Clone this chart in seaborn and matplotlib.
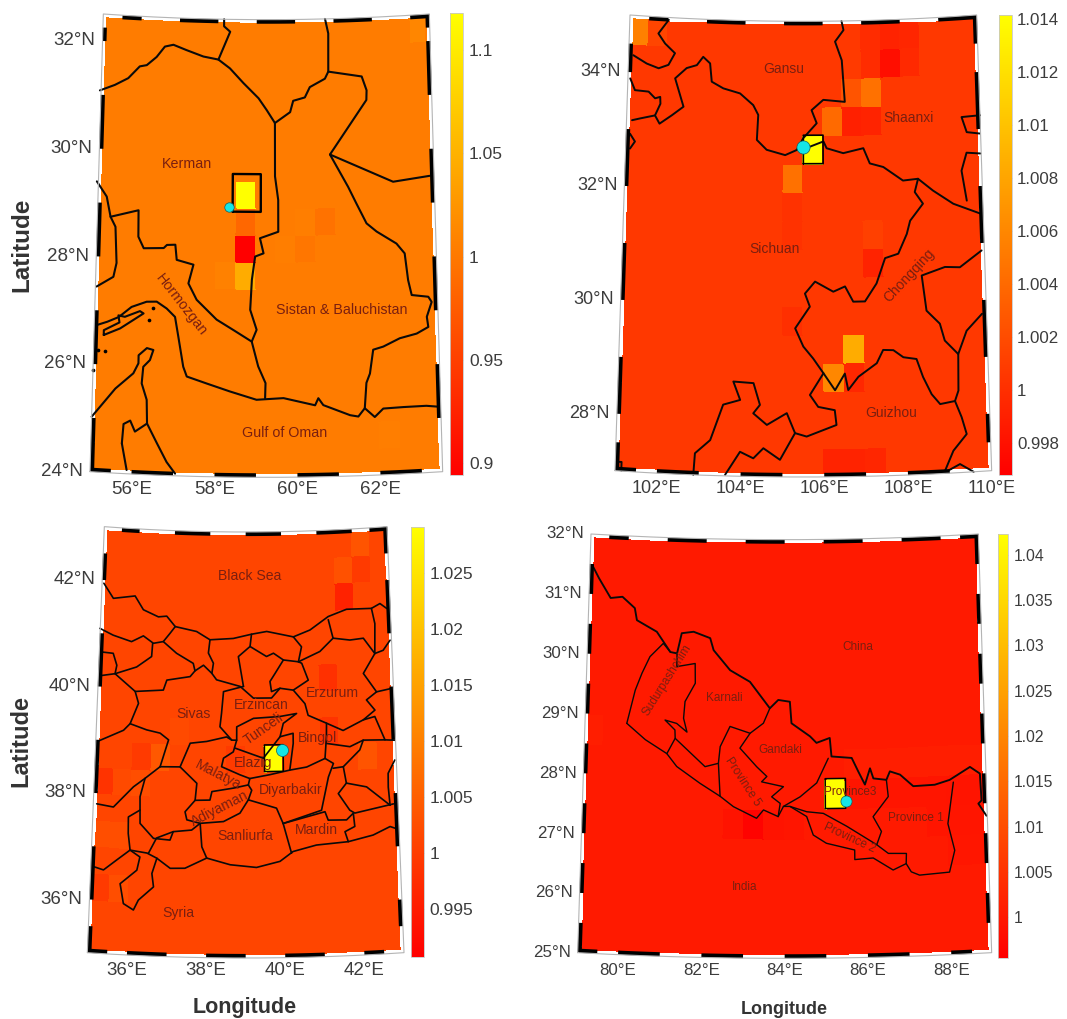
import numpy as np
import matplotlib
matplotlib.use("Agg")
import matplotlib.pyplot as plt
import seaborn as sns

sns.set_theme(style="white")
plt.rcParams["font.family"] = ["Liberation Sans", "DejaVu Sans"]

# ---------- data: cell values (lon, lat of the cell's SW corner, value) ----------
KERMAN_BASE = 1.003
KERMAN_CELLS = [(58.5,29,1.1177),(58.5,28.5,0.985),(58.5,28,0.8944),(58.5,27.5,1.045),(58,27.5,1.007),
                (60.5,28.5,0.994),(60,28.5,1.005),(60,28,0.998),(59.5,28,1.005),(63,32,1.012),(62,24.5,1.005)]
SICHUAN_BASE = 1.0006
SICHUAN_CELLS = [(101,34.5,1.0055),(101.5,34.5,1.0015),(107.5,34,0.9978),(107.5,34.5,0.9992),(108,34.5,0.9994),
                 (107,34.5,0.9998),(108,34,0.9996),(107,34,0.9998),(106.5,34,1.0008),(107,33.5,1.0045),(106.5,33.5,1.0025),
                 (106,33,1.004),(106.5,33,0.999),(107,33,0.9992),(105.5,32.5,1.01416),(105,32,1.0045),
                 (105,31.5,1.0002),(105,31,1.0002),(107,31,1.0012),(107,30.5,0.9992),(105,29.5,1.0),
                 (106.5,29,1.0085),(106,28.5,1.006),(106.5,28.5,0.9995),(106,27,0.9992),(106.5,27,0.9992),(107,27,0.9994)]
ELAZIG_BASE = 1.0012
ELAZIG_CELLS = [(41.5,41.5,0.996),(42,42,0.9995),(42,42.5,1.0035),(41.5,42,1.003),(41,40,0.998),(41,39,0.9985),
                (39.5,38.5,1.0291),(36.5,38.5,1.004),(36,38.5,0.9995),(35,38,0.9985),(36,38,1.0025),(35.5,38,1.002),
                (35,36,0.9995),(35.5,36,1.0025),(42,38.5,1.0035),(35,37,1.0025),(35.5,37,1.0025),(37,39,1.002),(38.5,38.5,0.9995)]
NEPAL_BASE = 1.0003
NEPAL_CELLS = [(85,27.5,1.0423),(83,27,0.9962),(82.5,27,0.9992),(83.5,27,0.9992),(84,27,0.9994),(79,28.5,1.0012),
               (85.5,28,1.0012),(86,28,1.0012),(86.5,28,1.0012),(87,28,1.0012),(87.5,28,1.0012),(88,28,1.0012),(88.5,28,1.0012),
               (85.5,27.5,0.9995),(86,27.5,0.9995),(86.5,27.5,0.9995),(87,27.5,0.9995),(87.5,27.5,0.9995),(88,27.5,0.9993),(88.5,27.5,0.9993),
               (87.5,27,0.9995),(88,27,0.9995),(88.5,27,0.9995),(88,26.5,0.9997),(88.5,26.5,0.9997)]

# ---------- data: boundary lines as (lon, lat) ----------
KERMAN_LINES = [
 [(54.97,31.08),(55.35,31.2),(55.69,31.34),(55.98,31.57),(56.16,31.6),(56.41,31.76),(56.62,31.96),(56.84,32.0),(57.18,31.91),(57.62,31.8),(58.01,31.75),(58.31,31.59),(58.66,31.32),(59.05,31.04),(59.26,30.82),(59.47,30.58)],
 [(58.01,31.75),(58.31,32.27),(58.15,32.37),(58.15,32.5)],
 [(60.78,32.5),(60.86,32.23),(60.85,31.52),(60.76,31.39),(60.37,31.24),(60.24,31.05),(59.94,30.99),(59.86,30.78),(59.47,30.58)],
 [(60.85,31.52),(61.71,31.41),(61.83,31.15),(61.82,30.97),(60.87,29.98),(62.46,29.43),(63.39,29.5)],
 [(60.87,29.98),(61.32,29.37),(61.52,29.06),(61.77,28.68),(62.02,28.52),(62.51,28.28),(62.71,28.09),(62.78,27.59),(62.86,27.31),(63.27,27.26),(63.35,27.16),(63.22,26.89),(63.25,26.7),(62.96,26.59),(62.54,26.52),(62.13,26.38),(61.88,26.33),(61.79,25.89),(61.7,25.72),(61.65,25.25)],
 [(55.04,26.72),(55.32,26.8),(55.6,26.9),(55.91,27.1),(56.28,27.21),(56.53,27.22),(56.78,27.1),(56.99,26.95),(57.08,26.58),(57.21,26.03),(57.3,25.85),(57.79,25.73),(58.36,25.59),(59.01,25.44),(59.67,25.47),(60.44,25.33),(60.52,25.46),(60.64,25.33),(61.29,25.13),(61.49,25.1),(61.65,25.25),(61.89,25.08),(62.1,25.23),(62.59,25.24),(63.15,25.24),(63.44,25.21)],
 [(54.96,29.39),(55.22,29.12),(55.33,28.75),(55.46,28.57),(55.51,27.9),(55.44,27.64),(55.03,27.44)],
 [(55.33,28.75),(56.03,28.9),(56.04,28.41),(56.18,28.2),(56.68,28.22),(56.76,28.28),(56.97,28.29),(57.01,28.01),(57.43,27.93),(57.31,27.58),(57.52,27.28),(58.02,26.92),(58.44,26.73),(58.89,26.52),(59.05,26.06),(59.23,25.75),(59.22,25.47)],
 [(58.89,26.52),(59.01,26.74),(58.85,27.11),(58.89,27.67),(58.97,28.1),(59.18,28.16),(59.09,28.44),(59.55,28.56),(59.55,29.15),(59.47,29.59),(59.47,30.58)],
 [(55.0,25.02),(55.56,25.57),(55.99,25.87),(56.11,26.06),(56.11,26.21),(56.31,26.35),(56.47,26.32),(56.39,26.13),(56.23,26.0),(56.2,25.69),(56.33,25.39),(56.35,24.95),(56.6,24.59),(56.84,24.25),(57.05,24.04)],
 [(55.75,24.56),(55.78,24.92),(55.94,24.99),(56.06,24.79),(56.35,24.95)],
 [(55.75,24.56),(55.88,24.07)],
 [(55.24,26.55),(55.64,26.69),(56.21,26.99),(56.12,27.03),(55.75,26.91),(55.59,26.93),(55.62,26.8),(55.24,26.64),(55.24,26.55)],
]
KERMAN_ISLANDS_LON = [56.45,56.34,55.12,55.29,55.01]
KERMAN_ISLANDS_LAT = [27.09,26.88,26.26,26.26,25.89]

SICHUAN_LINES = [
 [(102.01,34.96),(101.75,34.71),(101.93,34.54),(102.19,34.38),(102.03,34.17),(101.78,34.1),(101.47,34.17),(101.12,34.3)],
 [(101.06,33.89),(101.19,33.69),(101.54,33.68),(101.71,33.57),(101.84,33.6),(101.85,33.48),(101.72,33.27),(101.84,33.13),(102.15,33.29),(102.44,33.45),(102.21,33.94),(102.5,34.13),(102.76,34.19),(102.92,34.34),(103.1,34.23),(103.15,33.91),(103.45,33.8),(103.88,33.72),(104.22,33.52),(104.35,33.35),(104.32,32.91),(104.57,32.74),(105.04,32.65),(105.33,32.74),(105.5,32.95),(105.84,33.21),(105.71,33.44),(106.01,33.62),(106.56,33.58),(106.49,34.31),(106.32,34.64),(106.54,34.84),(106.49,35.0)],
 [(105.33,32.74),(105.67,32.8),(106.01,32.89),(106.09,32.77),(106.51,32.68),(107.02,32.76),(107.18,32.49),(107.52,32.42),(108.01,32.17),(108.39,32.19),(108.76,31.97),(109.26,31.72),(109.92,31.52)],
 [(108.39,32.19),(108.3,31.96),(108.5,31.75),(108.17,31.46),(108.08,31.23),(107.86,30.89),(107.53,30.82),(107.31,30.38),(107.02,30.07),(106.73,30.07),(106.53,30.34),(106.24,30.25),(105.79,30.43),(105.54,30.22),(105.66,29.99),(105.3,29.61),(105.5,29.29),(105.74,29.08),(105.99,28.82),(106.27,28.52),(106.51,28.81),(106.59,28.52),(106.84,28.75),(107.29,28.98),(107.45,29.21),(107.7,29.2),(107.94,29.07),(108.26,29.03),(108.41,28.71),(108.61,28.4),(108.81,28.22),(109.17,28.26),(109.26,28.44),(109.28,29.08),(109.5,29.48),(109.89,29.76)],
 [(109.93,30.87),(109.38,30.6),(109.01,30.62),(108.43,30.49),(108.53,29.87),(108.85,29.63),(108.96,29.33),(109.28,29.08)],
 [(102.87,27.0),(102.9,27.38),(103.26,27.62),(103.56,28.25),(103.97,28.34),(103.8,28.66),(104.29,28.64),(104.45,28.26),(104.29,28.11),(104.62,27.91),(105.1,28.12),(105.3,27.77),(105.58,27.71),(106.3,27.91),(106.26,28.17),(105.86,28.23),(105.66,28.44),(105.99,28.82)],
 [(103.63,27.02),(103.98,27.43),(104.3,27.32),(104.54,27.5),(104.94,27.3),(105.3,27.77)],
 [(109.17,28.26),(109.32,27.97),(109.43,27.67),(109.1,27.39),(108.89,27.05)],
 [(108.89,27.02),(109.25,27.15),(109.57,27.0)],
 [(110.0,33.24),(109.53,33.23),(109.65,32.96),(109.98,32.92)],
 [(109.98,32.57),(109.63,32.6),(109.49,32.29),(109.6,31.76)],
 [(101.14,33.16),(101.34,33.2),(101.72,33.27)],
 [(101.1,32.92),(101.23,32.79),(101.11,32.66)],
 [(101.03,27.16),(101.15,27.16),(101.15,27.01)],
]

ELAZIG_LINES = [
 [(35.05,41.94),(35.33,41.67),(35.93,41.74),(36.17,41.49),(36.59,41.37),(36.82,41.39),(37.06,41.2),(37.65,41.12),(38.02,40.97),(38.66,41.0),(39.16,41.08),(39.58,41.13),(40.31,41.02),(40.77,41.14),(41.28,41.38),(41.79,41.5),(42.48,41.49),(42.72,41.57),(42.9,41.47)],
 [(35.07,36.62),(35.33,36.57),(35.66,36.77),(36.0,36.97),(36.44,36.93),(36.7,36.84),(37.05,36.66),(37.43,36.67),(37.99,36.87),(38.6,36.75),(39.28,36.7),(39.89,36.81),(40.23,36.99),(40.84,37.1),(41.67,37.14),(42.32,37.24),(42.77,37.38),(42.94,37.33)],
 [(34.99,41.09),(35.36,40.98),(35.87,40.88),(36.19,41.0),(36.47,40.87),(36.74,40.91),(36.92,41.07),(37.06,41.2)],
 [(35.07,40.65),(35.38,40.64),(35.49,40.42),(35.45,40.26),(35.09,40.21)],
 [(35.45,40.26),(36.03,40.41),(36.43,40.62),(36.45,40.87)],
 [(36.74,40.91),(37.11,40.7),(37.57,40.52),(37.62,40.38),(37.85,40.49),(38.08,40.34),(38.21,40.22),(38.85,40.1),(39.21,39.88),(39.7,39.88),(39.93,40.06),(40.29,40.02),(40.6,39.76),(40.68,39.54),(41.17,39.38),(41.61,39.23),(42.16,39.41),(42.47,39.46),(42.72,39.01),(42.99,38.99)],
 [(38.02,40.97),(37.98,40.72),(38.12,40.53),(38.08,40.34)],
 [(39.16,41.08),(39.12,40.85),(38.8,40.66),(38.94,40.1)],
 [(39.12,40.85),(39.57,40.66),(39.76,40.72),(40.03,40.59),(40.44,40.55),(40.53,40.83),(40.31,41.02)],
 [(40.03,40.59),(39.8,40.34),(39.66,40.19),(39.7,40.0),(39.93,40.06)],
 [(40.44,40.55),(40.53,40.52),(40.7,40.2),(40.29,40.02)],
 [(40.44,40.55),(41.03,40.73),(41.4,40.97),(41.28,41.32)],
 [(41.4,40.97),(41.86,40.92),(42.23,40.94),(42.53,40.64),(42.2,40.28),(42.54,39.92),(42.26,39.78),(42.48,39.58),(42.16,39.41)],
 [(42.54,39.92),(42.9,39.96)],
 [(42.53,40.64),(42.76,40.69),(42.96,40.87)],
 [(42.48,41.49),(42.56,41.2),(42.53,40.64)],
 [(35.45,40.26),(36.01,39.95),(36.11,39.73),(35.9,39.34),(36.35,39.24),(36.71,39.19),(36.94,39.07),(36.73,38.56)],
 [(36.01,39.95),(36.77,40.0),(36.86,40.19),(37.49,40.27),(37.62,40.38)],
 [(38.94,40.1),(38.4,40.0),(38.35,39.59),(38.31,39.34),(38.63,39.09)],
 [(35.9,39.34),(35.73,39.21),(35.02,38.96)],
 [(36.73,38.56),(37.26,38.57),(37.52,39.02),(37.96,39.06),(38.49,39.15),(38.63,39.09),(38.76,39.09),(38.67,38.87),(38.41,38.75),(38.36,38.59),(38.85,38.44),(39.11,38.37),(39.64,38.44),(40.17,38.52)],
 [(38.76,39.09),(38.76,39.34),(39.21,39.5),(39.92,39.53),(40.37,39.58),(40.01,39.4),(39.92,39.15),(40.27,39.21),(40.27,39.02),(40.17,38.52),(40.62,38.57),(41.11,38.72),(41.16,39.13),(41.17,39.38)],
 [(38.72,38.94),(39.47,38.75),(39.92,39.15)],
 [(37.26,38.57),(37.71,38.27),(37.67,37.95),(38.06,37.96),(38.11,38.12),(38.68,38.19),(39.07,38.25),(39.11,38.37)],
 [(37.67,37.95),(37.41,37.73),(37.46,37.58),(37.81,37.52),(38.42,37.56),(38.85,37.72),(39.07,37.97),(39.16,38.15),(39.07,38.25)],
 [(37.81,37.52),(37.86,37.08),(37.99,36.87)],
 [(39.07,37.97),(39.81,37.81),(39.98,37.52),(40.19,36.96)],
 [(41.11,38.72),(41.33,38.62),(41.19,38.37),(40.99,37.75),(39.98,37.52)],
 [(39.98,37.52),(41.08,37.72),(41.16,37.56),(41.64,37.55),(41.82,37.67),(41.85,37.42),(41.59,37.33),(41.67,37.14)],
 [(41.32,38.53),(41.59,38.55),(41.66,38.24),(42.19,38.15),(42.79,37.78)],
 [(41.66,38.24),(41.44,38.05),(41.73,37.73),(41.86,37.67),(42.88,37.8)],
 [(41.16,39.0),(41.78,38.92),(42.14,39.03),(42.72,39.01)],
 [(41.59,38.55),(42.04,38.85),(42.14,39.03)],
 [(42.96,38.62),(42.77,38.38),(42.76,38.12),(42.79,37.78)],
 [(35.09,37.8),(35.53,37.76),(36.04,38.16),(36.34,38.33),(36.73,38.56)],
 [(36.34,38.33),(36.22,37.98),(36.24,37.48),(36.6,37.21),(37.03,37.19),(37.11,37.35),(37.59,37.39),(37.81,37.52)],
 [(36.23,37.73),(35.93,37.59),(35.94,37.28),(36.0,36.97)],
 [(37.11,37.35),(36.68,37.22),(36.48,36.93)],
 [(36.0,36.97),(36.26,36.85),(36.19,36.6),(35.77,36.33),(35.87,35.96),(36.13,35.85),(36.25,36.04),(36.63,36.3),(36.58,36.55),(36.7,36.84)],
]

NEPAL_NORTH = [(79.09,31.48),(79.27,31.27),(79.58,30.95),(79.88,30.98),(80.2,30.8),(80.26,30.6),(80.77,30.42),(81.12,30.09),(81.29,30.07),(81.4,30.41),(81.7,30.44),(82.12,30.34),(82.21,30.14),(82.63,29.81),(83.13,29.62),(83.63,29.18),(83.84,29.32),(84.13,29.29),(84.17,28.93),(84.63,28.71),(84.79,28.6),(85.12,28.68),(85.16,28.37),(85.66,28.34),(85.82,28.11),(85.98,27.89),(86.11,28.16),(86.19,27.99),(86.51,27.96),(86.6,28.1),(86.85,28.04),(87.17,27.84),(87.7,27.85),(88.07,27.92),(88.58,28.12),(88.82,28.0),(88.84,27.55),(88.76,27.5),(88.95,27.29)]
NEPAL_LINES = [
 [(80.07,28.87),(80.54,28.61),(81.08,28.39),(81.33,28.18),(81.91,27.91),(82.41,27.7),(82.74,27.53),(83.31,27.34),(83.48,27.48),(83.84,27.37),(83.97,27.54),(84.13,27.54),(84.54,27.37),(84.7,27.06),(85.02,26.92),(85.71,26.8),(85.71,26.64),(86.16,26.66),(86.64,26.45),(86.96,26.55),(87.08,26.41),(87.28,26.35),(88.01,26.38),(88.15,26.74),(88.0,27.19),(88.16,27.88)],
 [(80.07,28.87),(80.26,29.43),(80.42,29.72),(80.61,30.0),(80.94,30.23),(81.12,30.09)],
 [(81.29,30.07),(81.29,29.85),(81.75,29.91),(81.76,29.58),(81.51,29.27),(81.48,28.99),(81.57,28.76),(81.31,28.9),(81.02,28.95),(81.27,28.79),(81.28,28.65),(81.08,28.39)],
 [(81.28,28.65),(82.03,28.19),(82.36,28.25),(82.4,28.53),(82.64,28.87),(83.14,28.76),(83.47,28.93),(83.63,29.18)],
 [(82.36,28.25),(82.41,27.7)],
 [(83.14,28.76),(82.89,28.51),(83.31,28.2),(83.56,28.04),(83.43,27.95),(83.97,27.87),(83.68,27.7),(83.89,27.59),(83.84,27.37)],
 [(85.08,28.34),(84.79,27.93),(84.38,27.7),(83.97,27.54)],
 [(86.51,27.96),(86.55,27.68),(86.17,27.35),(86.37,27.1),(86.25,26.88),(86.53,26.73),(86.97,26.72),(86.96,26.55)],
 [(84.13,27.54),(84.54,27.45),(84.95,27.42),(85.52,27.2),(86.25,26.88)],
]

CB_TICKS = [[1.1,1.05,1.0,0.95,0.9],
            [1.014,1.012,1.01,1.008,1.006,1.004,1.002,1.0,0.998],
            [1.025,1.02,1.015,1.01,1.005,1.0,0.995],
            [1.04,1.035,1.03,1.025,1.02,1.015,1.01,1.005,1.0]]
CB_LABELS = [["1.1","1.05","1","0.95","0.9"],
             ["1.014","1.012","1.01","1.008","1.006","1.004","1.002","1","0.998"],
             ["1.025","1.02","1.015","1.01","1.005","1","0.995"],
             ["1.04","1.035","1.03","1.025","1.02","1.015","1.01","1.005","1"]]

# ---------- layout ----------
PANELS = [
 dict(origin=(0,0), top=(310,1288,42), bot=(270,1328,1415), bulge=17, lon=(55,63.5), lat=(24,32.5), base=KERMAN_BASE, cells=KERMAN_CELLS,
      lines=KERMAN_LINES, vlim=(0.8944,1.1177), cb=(1350,1390,40,1425), lats=[24,26,28,30,32], lons=[56,58,60,62], fs=13.5, cfs=12.5, lw=1.5,
      box=(58.4,59.11,28.93,29.63), boxlw=1.7, dot=(58.3,29.02), dots=46,
      bottom=[(55,55.5),(56,57),(58,59),(60,61),(62,63)], topd=[(55.5,56),(57,58),(59,60),(61,62),(63,63.5)],
      left=[(24,25),(26,27),(28,29),(30,31),(32,32.25)], right=[(25,26),(27,28),(29,30),(31,32),(32.25,32.5)],
      tfs=10.3, labels=[("Kerman",560,492,0),("Hormozgan",545,915,-52),("Sistan & Baluchistan",1025,930,0),("Gulf of Oman",855,1300,0)]),
 dict(origin=(540,0), top=(270,1310,45), bot=(225,1355,1412), bulge=19, lon=(101,110), lat=(27,35), base=SICHUAN_BASE, cells=SICHUAN_CELLS,
      lines=SICHUAN_LINES, vlim=(0.9968,1.01416), cb=(1377,1415,45,1425), lats=[28,30,32,34], lons=[102,104,106,108,110], fs=13, cfs=12.2, lw=1.4,
      box=(105.5,106,32.5,33), boxlw=1.2, dot=(105.5,32.8), dots=90,
      bottom=[(101,101.5),(102,103),(104,105),(106,107),(108,109)], topd=[(101.5,102),(103,104),(105,106),(107,108),(109,110)],
      left=[(27,27.5),(28,29),(30,31),(32,33),(34,34.5)], right=[(27.5,28),(29,30),(31,32),(33,34),(34.5,35)],
      tfs=10, labels=[("Gansu",730,207,0),("Shaanxi",1105,355,0),("Sichuan",703,747,0),("Chongqing",1108,827,47),("Guizhou",1053,1238,0)]),
 dict(origin=(0,510), top=(312,1160,50), bot=(262,1212,1328), bulge=16, lon=(35,43), lat=(35,43), base=ELAZIG_BASE, cells=ELAZIG_CELLS,
      lines=ELAZIG_LINES, vlim=(0.99078,1.0291), cb=(1233,1272,50,1340), lats=[36,38,40,42], lons=[36,38,40,42], fs=13.5, cfs=12.5, lw=1.2,
      box=(39.5,40,38.5,39), boxlw=1.1, dot=(39.98,38.9), dots=75,
      bottom=[(35,35.5),(36,37),(38,39),(40,41),(42,42.5)], topd=[(35.5,36),(37,38),(39,40),(41,42),(42.5,43)],
      left=[(35,35.5),(36,37),(38,39),(40,41),(42,42.5)], right=[(35.5,36),(37,38),(39,40),(41,42),(42.5,43)],
      tfs=10.1, labels=[("Black Sea",748,198,0),("Sivas",580,612,0),("Erzincan",785,585,0),("Erzurum",998,548,0),("Tunceli",790,658,35),
                        ("Bingol",952,685,0),("Elazig",760,758,0),("Malatya",655,795,-27),("Diyarbakir",873,840,0),("Adiyaman",660,895,27),
                        ("Sanliurfa",737,978,0),("Mardin",950,960,0),("Syria",535,1210,0)]),
 dict(origin=(530,510), top=(183,1345,72), bot=(143,1385,1328), bulge=17, lon=(79.03,88.97), lat=(25,32), base=NEPAL_BASE, cells=NEPAL_CELLS,
      lines=NEPAL_LINES, vlim=(0.99555,1.0423), cb=(1403,1435,72,1343), lats=[25,26,27,28,29,30,31,32], lons=[80,82,84,86,88], fs=12.2, cfs=11.3, lw=1.0,
      box=(85,85.5,27.5,28), boxlw=1.1, dot=(85.51,27.63), dots=64,
      bottom=[(79.03,79.5),(80,81),(82,83),(84,85),(86,87),(88,88.5)], topd=[(79.5,80),(81,82),(83,84),(85,86),(87,88),(88.5,88.97)],
      left=[(n,n+0.5) for n in range(25,32)], right=[(n+0.5,n+1) for n in range(25,32)],
      tfs=8.5, labels=[("Sudurpashchim",412,510,58),("Karnali",582,565,0),("Gandaki",750,720,0),("Province 5",637,815,-57),("Province3",960,845,0),
                       ("Province 1",1158,925,0),("Province 2",958,985,-25),("China",982,410,0),("India",643,1132,0)]),
]

W, H = 1067, 1019
fig = plt.figure(figsize=(W/100, H/100), dpi=100)
ax = fig.add_axes([0, 0, 1, 1])
cmap = sns.color_palette("autumn", as_cmap=True)
TXT = "#3c3c3c"
LBL = "#7a1f10"


def projector(p):
    ox, oy = p["origin"]
    tl, tr, yt = p["top"]
    bl, br, yb = p["bot"]
    lon0, lon1 = p["lon"]
    lat0, lat1 = p["lat"]
    xc = (bl + br) / 2
    def proj(lon, lat):
        lon = np.asarray(lon, float)
        lat = np.asarray(lat, float)
        v = (lat - lat0) / (lat1 - lat0)
        u = (lon - lon0) / (lon1 - lon0)
        width = (br - bl) + ((tr - tl) - (br - bl)) * v
        x = xc + (u - 0.5) * width
        y = yb - v * (yb - yt) + p["bulge"] * (1 - (2 * u - 1) ** 2)
        return ox + x / 3, oy + y / 3
    return proj


def line(proj, lons, lats, **kw):
    x, y = proj(lons, lats)
    sns.lineplot(x=x, y=y, ax=ax, sort=False, estimator=None, errorbar=None, legend=False, **kw)


for p in PANELS:
    proj = projector(p)
    ox, oy = p["origin"]
    lon0, lon1 = p["lon"]
    lat0, lat1 = p["lat"]
    wpx = ((p["bot"][1] - p["bot"][0]) / 3) / (lon1 - lon0)
    hpx = ((p["bot"][2] - p["top"][2]) / 3) / (lat1 - lat0)
    dlo, dla = 2.0 / wpx, 2.0 / hpx
    # value grid on half-degree cells, stopping inside the frame band
    lon_e = np.clip(np.arange(np.floor(lon0), np.ceil(lon1) + 0.01, 0.5), lon0 + 2 * dlo, lon1 - 2 * dlo)
    lat_e = np.clip(np.arange(np.floor(lat0), np.ceil(lat1) + 0.01, 0.5), lat0 + 2 * dla, lat1 - 2 * dla)
    grid = np.full((len(lat_e) - 1, len(lon_e) - 1), p["base"])
    for clon, clat, val in p["cells"]:
        grid[int(round((clat - np.floor(lat0)) * 2)), int(round((clon - np.floor(lon0)) * 2))] = val
    LON, LAT = np.meshgrid(lon_e, lat_e)
    X, Y = proj(LON, LAT)
    mesh = ax.pcolormesh(X, Y, grid, cmap=cmap, vmin=p["vlim"][0], vmax=p["vlim"][1],
                         shading="flat", edgecolors="face", linewidth=0.1, zorder=1)
    # boundaries
    for seg in p["lines"]:
        lo, la = zip(*seg)
        line(proj, lo, la, color="#0a0a0a", lw=p["lw"], zorder=3)
    # extent box
    b = p["box"]
    line(proj, [b[0], b[1], b[1], b[0], b[0]], [b[2], b[2], b[3], b[3], b[2]], color="black", lw=p["boxlw"], zorder=4)
    # frame
    t = np.linspace(0, 1, 40)
    for a, c in p["bottom"]:
        s = np.linspace(a, c, 12)
        x, y = proj(s, np.full_like(s, lat0 + dla))
        ax.plot(x, y, color="black", lw=3.0, solid_capstyle="butt", zorder=6)
    for a, c in p["topd"]:
        s = np.linspace(a, c, 12)
        x, y = proj(s, np.full_like(s, lat1 - dla))
        ax.plot(x, y, color="black", lw=3.0, solid_capstyle="butt", zorder=6)
    for a, c in p["left"]:
        s = np.linspace(a, c, 4)
        x, y = proj(np.full_like(s, lon0 + dlo), s)
        ax.plot(x, y, color="black", lw=3.0, solid_capstyle="butt", zorder=6)
    for a, c in p["right"]:
        s = np.linspace(a, c, 4)
        x, y = proj(np.full_like(s, lon1 - dlo), s)
        ax.plot(x, y, color="black", lw=3.0, solid_capstyle="butt", zorder=6)
    ring_lo = np.r_[lon0 + (lon1 - lon0) * t, np.full_like(t, lon1), lon1 - (lon1 - lon0) * t, np.full_like(t, lon0)]
    ring_la = np.r_[np.full_like(t, lat0), lat0 + (lat1 - lat0) * t, np.full_like(t, lat1), lat1 - (lat1 - lat0) * t]
    x, y = proj(ring_lo, ring_la)
    ax.plot(x, y, color="#b4b4b4", lw=0.8, zorder=7)
    # marker
    mx, my = proj(p["dot"][0], p["dot"][1])
    sns.scatterplot(x=[float(mx)], y=[float(my)], s=p["dots"], color="#14e6e6", edgecolor="#106060", linewidth=0.5,
                    ax=ax, legend=False, zorder=8)
    # tick labels
    for la in p["lats"]:
        x, y = proj(lon0, la)
        ax.text(x - 7, y, f"{la}°N", ha="right", va="center", fontsize=p["fs"], color=TXT, zorder=9)
    for lo in p["lons"]:
        x, y = proj(lo, lat0)
        ax.text(x, oy + p["bot"][2] / 3 + 18, f"{lo}°E", ha="center", va="center", fontsize=p["fs"], color=TXT, zorder=9)
    # place names
    for name, zx, zy, rot in p["labels"]:
        ax.text(ox + zx / 3, oy + zy / 3, name, ha="center", va="center", rotation=rot, rotation_mode="anchor",
                fontsize=p["tfs"], color=LBL, zorder=9)
    # colour bar
    c0, c1, c2, c3 = p["cb"]
    cax = fig.add_axes([(ox + c0 / 3) / W, 1 - (oy + c3 / 3) / H, (c1 - c0) / 3 / W, (c3 - c2) / 3 / H])
    cbar = fig.colorbar(mesh, cax=cax)
    i = PANELS.index(p)
    cbar.set_ticks(CB_TICKS[i])
    cbar.set_ticklabels(CB_LABELS[i])
    cbar.minorticks_off()
    cax.tick_params(axis="y", which="major", direction="in", length=2, width=0.5, color="#888888", pad=4,
                    labelsize=p["cfs"], labelcolor=TXT, right=True, left=False)
    cbar.outline.set_edgecolor("#c8c8c8")
    cbar.outline.set_linewidth(0.6)

# islands in the first panel
ix, iy = projector(PANELS[0])(KERMAN_ISLANDS_LON, KERMAN_ISLANDS_LAT)
sns.scatterplot(x=ix, y=iy, s=7, color="black", linewidth=0, ax=ax, legend=False, zorder=3)
# Nepal's northern border is heavier
nlo, nla = zip(*NEPAL_NORTH)
line(projector(PANELS[3]), nlo, nla, color="#0a0a0a", lw=1.35, zorder=3)

# axis titles
ax.text(22, 245, "Latitude", rotation=90, ha="center", va="center", fontsize=17.5, fontweight="bold", color="#333333")
ax.text(20.5, 741, "Latitude", rotation=90, ha="center", va="center", fontsize=17, fontweight="bold", color="#333333")
ax.text(245, 1008, "Longitude", ha="center", va="center", fontsize=15.5, fontweight="bold", color="#333333")
ax.text(784, 1009, "Longitude", ha="center", va="center", fontsize=13, fontweight="bold", color="#333333")

ax.set_xlim(0, W)
ax.set_ylim(H, 0)
ax.axis("off")
fig.savefig("out.png", dpi=100, facecolor="white")
